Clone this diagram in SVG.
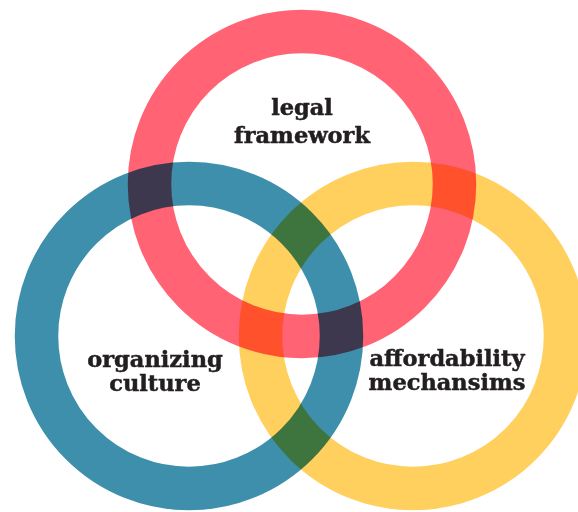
<svg xmlns="http://www.w3.org/2000/svg" width="578" height="512" viewBox="0 0 578 512">
<style>
.ring{fill:none;stroke-width:43.5;mix-blend-mode:multiply}
.lbl{font-family:"DejaVu Serif",serif;font-weight:bold;font-size:22.5px;fill:#231f20;stroke:#231f20;stroke-width:0.5;text-anchor:middle}
</style>
<rect width="578" height="512" fill="#ffffff"/>
<g id="rings">
<circle id="red" class="ring" cx="302" cy="184" r="152.5" stroke="#ff6374"/>
<circle id="blue" class="ring" cx="189" cy="336" r="152.5" stroke="#3e8fab"/>
<circle id="yellow" class="ring" cx="413" cy="336" r="152.5" stroke="#ffd05e"/>
</g>
<g id="labels">
<text class="lbl" x="302" y="115">legal</text>
<text class="lbl" x="302" y="143">framework</text>
<text class="lbl" x="155" y="367">organizing</text>
<text class="lbl" x="155" y="391">culture</text>
<text class="lbl" x="447" y="366">affordability</text>
<text class="lbl" x="447" y="390">mechansims</text>
</g>
</svg>
